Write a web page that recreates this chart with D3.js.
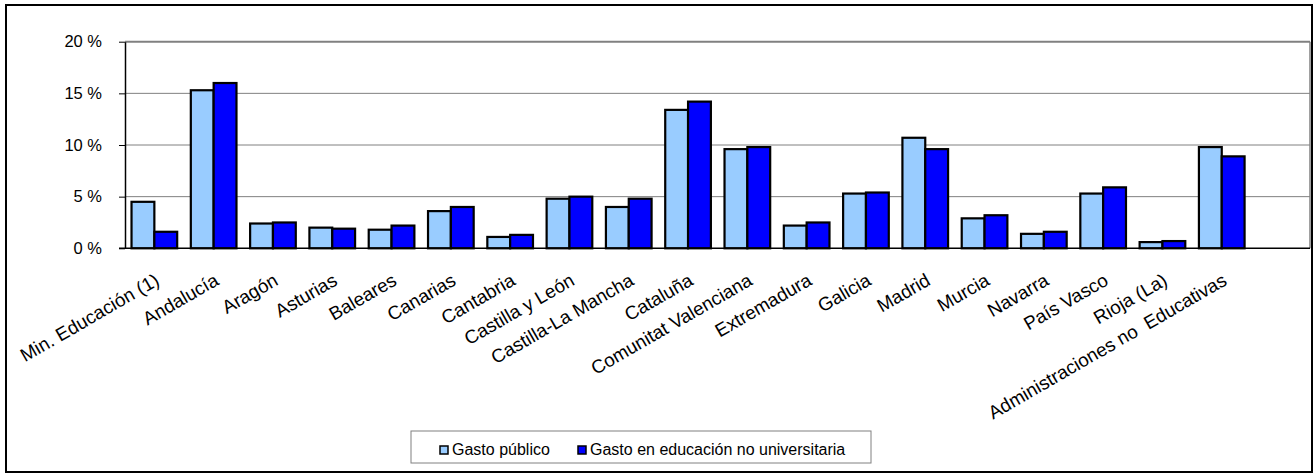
<!DOCTYPE html>
<html>
<head>
<meta charset="utf-8">
<script src="https://cdn.jsdelivr.net/npm/d3@7"></script>
<style>
  body { margin: 0; background: #fff; }
  text { font-family: Arial, "Liberation Sans", sans-serif; fill: #000; }
</style>
</head>
<body>
<div id="chart"></div>
<script>
const categories = ["Min. Educación (1)", "Andalucía", "Aragón", "Asturias", "Baleares", "Canarias",
    "Cantabria", "Castilla y León", "Castilla-La Mancha", "Cataluña", "Comunitat Valenciana",
    "Extremadura", "Galicia", "Madrid", "Murcia", "Navarra", "País Vasco", "Rioja (La)",
    "Administraciones no  Educativas"];
const gastoPublico = [4.5, 15.3, 2.4, 2.0, 1.8, 3.6, 1.1, 4.8, 4.0, 13.4, 9.6, 2.2, 5.3, 10.7, 2.9, 1.4, 5.3, 0.6, 9.8];
const gastoNoUniv = [1.6, 16.0, 2.5, 1.9, 2.2, 4.0, 1.3, 5.0, 4.8, 14.2, 9.8, 2.5, 5.4, 9.6, 3.2, 1.6, 5.9, 0.7, 8.9];
const seriesNames = ["Gasto público", "Gasto en educación no universitaria"];
const yTicks = [0, 5, 10, 15, 20];

const colors = ["#99CCFF", "#0000FF"];
const width = 1314, height = 475;

const svg = d3.select("#chart")
    .append("svg")
    .attr("width", width)
    .attr("height", height);

// outer chart frame
svg.append("rect")
    .attr("x", 6).attr("y", 5)
    .attr("width", 1306).attr("height", 467)
    .attr("fill", "#fff")
    .attr("stroke", "#000")
    .attr("stroke-width", 2);

const plot = { left: 125, right: 1310, top: 41.7, bottom: 248.3 };

// the original plot keeps an empty slot at the end
const xScale = d3.scaleBand()
    .domain(categories.concat([""]))
    .range([plot.left, plot.right + 1])
    .padding(0);

const step = xScale.step();
const xInner = d3.scaleBand()
    .domain([0, 1])
    .range([step * 0.11, step * 0.88])
    .padding(0);

const yScale = d3.scaleLinear()
    .domain([0, 20])
    .range([plot.bottom, plot.top]);

// gridlines
svg.append("g")
    .selectAll("line")
    .data(yTicks.filter(d => d > 0))
    .enter()
    .append("line")
    .attr("x1", plot.left)
    .attr("x2", plot.right)
    .attr("y1", d => yScale(d))
    .attr("y2", d => yScale(d))
    .attr("stroke", "#808080")
    .attr("stroke-width", d => d === 20 ? 2 : 1);

// right edge of plot area
svg.append("line")
    .attr("x1", plot.right).attr("x2", plot.right)
    .attr("y1", plot.top).attr("y2", plot.bottom)
    .attr("stroke", "#808080")
    .attr("stroke-width", 1.5);

// bars
const rows = categories.map((c, i) => ({ cat: c, values: [gastoPublico[i], gastoNoUniv[i]] }));

const groups = svg.append("g")
    .selectAll(".grp")
    .data(rows)
    .enter()
    .append("g")
    .attr("class", "grp")
    .attr("transform", d => `translate(${xScale(d.cat)},0)`);

groups.selectAll("rect")
    .data(d => d.values)
    .enter()
    .append("rect")
    .attr("x", (d, i) => xInner(i))
    .attr("y", d => yScale(d))
    .attr("width", xInner.bandwidth())
    .attr("height", d => yScale(0) - yScale(d))
    .attr("fill", (d, i) => colors[i])
    .attr("stroke", "#000")
    .attr("stroke-width", 2.2);

// y axis
const yAxis = svg.append("g")
    .attr("transform", `translate(${plot.left},0)`)
    .call(d3.axisLeft(yScale)
        .tickValues(yTicks)
        .tickFormat(d => d + " %")
        .tickSize(6)
        .tickPadding(17)
        .tickSizeOuter(0));
yAxis.select(".domain").attr("stroke", "#000").attr("stroke-width", 1.5);
yAxis.selectAll(".tick line").attr("stroke", "#000");
yAxis.selectAll("text")
    .style("font-size", "16.5px")
    .attr("font-family", null);

// x axis line
svg.append("line")
    .attr("x1", plot.left - 6).attr("x2", plot.right)
    .attr("y1", plot.bottom).attr("y2", plot.bottom)
    .attr("stroke", "#000")
    .attr("stroke-width", 1.5);

// rotated category labels
svg.append("g")
    .selectAll("text")
    .data(categories)
    .enter()
    .append("text")
    .attr("transform", d => `translate(${xScale(d) + step / 2 + 6},284) rotate(-30)`)
    .style("text-anchor", "end")
    .style("font-size", "18.8px")
    .style("white-space", "pre")
    .text(d => d);

// legend
const legend = svg.append("g");
legend.append("rect")
    .attr("x", 411).attr("y", 431)
    .attr("width", 460).attr("height", 32)
    .attr("fill", "#fff")
    .attr("stroke", "#808080")
    .attr("stroke-width", 1);

const legendX = [440, 578];
const items = legend.selectAll(".item")
    .data(seriesNames)
    .enter()
    .append("g")
    .attr("class", "item")
    .attr("transform", (d, i) => `translate(${legendX[i]},446)`);

items.append("rect")
    .attr("width", 8)
    .attr("height", 8)
    .attr("fill", (d, i) => colors[i])
    .attr("stroke", "#000")
    .attr("stroke-width", 1.5);

items.append("text")
    .attr("x", 12)
    .attr("y", 9)
    .style("font-size", "16px")
    .text(d => d);
</script>
</body>
</html>
